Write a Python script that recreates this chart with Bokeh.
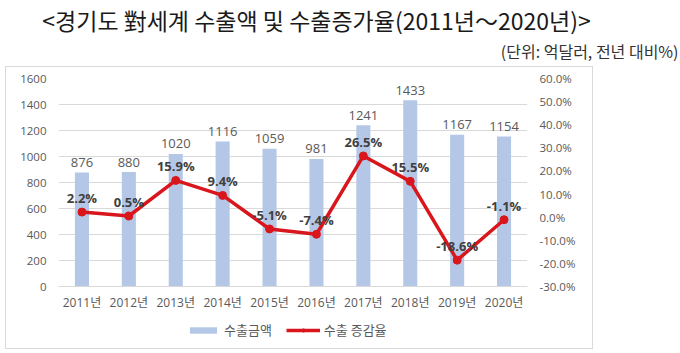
from bokeh.plotting import figure
from bokeh.layouts import column, row
from bokeh.models import (ColumnDataSource, Range1d, LinearAxis, FixedTicker,
                          PrintfTickFormatter, LabelSet, Label, Legend, LegendItem,
                          Spacer)
from bokeh.core.properties import value
from bokeh.embed import file_html
from bokeh.resources import INLINE

# ---- data ----
years = ["2011년", "2012년", "2013년", "2014년", "2015년",
         "2016년", "2017년", "2018년", "2019년", "2020년"]
exports = [876, 880, 1020, 1116, 1059, 981, 1241, 1433, 1167, 1154]
growth = [2.2, 0.5, 15.9, 9.4, -5.1, -7.4, 26.5, 15.5, -18.6, -1.1]
left_ticks = [0, 200, 400, 600, 800, 1000, 1200, 1400, 1600]
right_ticks = [-30, -20, -10, 0, 10, 20, 30, 40, 50, 60]
title_text = "<경기도 對세계 수출액 및 수출증가율(2011년～2020년)>"
unit_text = "(단위: 억달러, 전년 대비%)"
bar_name = "수출금액"
line_name = "수출 증감율"

NUM_FONT = "'Open Sans', 'Noto Sans CJK KR'"
KR_FONT = "'Noto Sans CJK KR'"
GRAY = "#595959"
BAR = "#b4c7e7"
RED = "#d9161c"
EDGE = "#d9d9d9"

src = ColumnDataSource(dict(
    year=years, exports=exports, growth=growth,
    elbl=[str(v) for v in exports],
    glbl=[f"{g:.1f}%" for g in growth],
))


def blank(w, h):
    f = figure(width=w, height=h, x_range=Range1d(0, w), y_range=Range1d(0, h),
               output_backend="svg", toolbar_location=None,
               min_border=0, min_border_left=0, min_border_right=0,
               min_border_top=0, min_border_bottom=0)
    f.axis.visible = False
    f.grid.visible = False
    f.outline_line_color = None
    return f


# ---- header (title + unit note) ----
head = blank(680, 66)
head.add_layout(Label(x=316, y=47, x_units="screen", y_units="screen",
                      text=title_text, text_align="center", text_baseline="middle",
                      text_font=KR_FONT, text_font_size="23px", text_color="#1a1a1a"))
head.add_layout(Label(x=678, y=16, x_units="screen", y_units="screen",
                      text=unit_text, text_align="right", text_baseline="middle",
                      text_font=KR_FONT, text_font_size="16px", text_color="#333333"))

# ---- chart ----
p = figure(width=588, height=247, x_range=years, y_range=Range1d(0, 1600),
           output_backend="svg", toolbar_location=None,
           min_border_left=53, min_border_right=66,
           min_border_top=12, min_border_bottom=27)
p.outline_line_color = None
p.border_fill_alpha = 0
p.styles = {"box-shadow": f"inset 1px 1px 0 {EDGE}, inset -1px 0 0 {EDGE}"}
p.extra_y_ranges = {"pct": Range1d(-30, 60)}

p.xgrid.grid_line_color = None
p.ygrid.grid_line_color = EDGE
p.ygrid.ticker = FixedTicker(ticks=left_ticks)

ax = p.yaxis[0]
ax.ticker = FixedTicker(ticks=left_ticks)
ax.axis_line_color = None
ax.major_tick_line_color = None
ax.minor_tick_line_color = None
ax.major_tick_out = 0
ax.major_tick_in = 0
ax.minor_tick_out = 0
ax.major_label_standoff = 12
ax.major_label_text_font = NUM_FONT
ax.major_label_text_font_size = "11.5px"
ax.major_label_text_color = GRAY

rax = LinearAxis(y_range_name="pct", ticker=FixedTicker(ticks=right_ticks),
                 formatter=PrintfTickFormatter(format="%.1f%%"))
rax.axis_line_color = None
rax.major_tick_line_color = None
rax.minor_tick_line_color = None
rax.major_tick_out = 0
rax.major_tick_in = 0
rax.minor_tick_out = 0
rax.major_label_standoff = 12
rax.major_label_text_font = NUM_FONT
rax.major_label_text_font_size = "11.5px"
rax.major_label_text_color = GRAY
p.add_layout(rax, "right")

bx = p.xaxis[0]
bx.axis_line_color = EDGE
bx.major_tick_line_color = None
bx.minor_tick_line_color = None
bx.major_tick_out = 0
bx.major_tick_in = 0
bx.minor_tick_out = 0
bx.major_label_standoff = 7
bx.major_label_text_font = NUM_FONT
bx.major_label_text_font_size = "12px"
bx.major_label_text_color = GRAY

bars = p.vbar(x="year", top="exports", width=0.3, source=src,
              fill_color=BAR, line_color=None)
line = p.line(x="year", y="growth", source=src, y_range_name="pct",
              line_color=RED, line_width=3.5)
dots = p.scatter(x="year", y="growth", source=src, y_range_name="pct",
                 size=8, fill_color=RED, line_color=RED)

p.add_layout(LabelSet(x="year", y="exports", text="elbl", source=src,
                      y_offset=10, text_align="center", text_baseline="middle",
                      text_font=value(NUM_FONT), text_font_size=value("13px"),
                      text_color=GRAY))
p.add_layout(LabelSet(x="year", y="growth", text="glbl", source=src,
                      y_range_name="pct", y_offset=14, text_align="center",
                      text_baseline="middle", text_font=value(NUM_FONT),
                      text_font_size=value("13px"), text_font_style="bold",
                      text_color="#404040"))

# ---- legend strip ----
leg = blank(588, 36)
leg.border_fill_alpha = 0
leg.background_fill_alpha = 0
leg.styles = {"box-shadow": f"inset 1px -1px 0 {EDGE}, inset -1px 0 0 {EDGE}"}
# legend-only renderers: one point placed far outside the visible range
lsrc = ColumnDataSource(dict(x=[-1000], y=[-1000]))
lb = leg.vbar(x="x", top="y", width=1, source=lsrc, fill_color=BAR, line_color=None)
ll = leg.line(x="x", y="y", source=lsrc, line_color=RED, line_width=3.5)
ld = leg.scatter(x="x", y="y", source=lsrc, size=8, fill_color=RED, line_color=RED)
legend = Legend(items=[LegendItem(label=bar_name, renderers=[lb]),
                       LegendItem(label=line_name, renderers=[ll, ld])],
                orientation="horizontal", location=(128, 10),
                padding=0, margin=0, spacing=14, label_standoff=4,
                glyph_width=34, glyph_height=8,
                label_text_font=KR_FONT, label_text_font_size="13px",
                label_text_color=GRAY,
                border_line_color=None, background_fill_alpha=0)
leg.add_layout(legend)

layout = column(head, row(Spacer(width=5), column(p, leg)))
open("out.html", "w").write(file_html(layout, INLINE))
